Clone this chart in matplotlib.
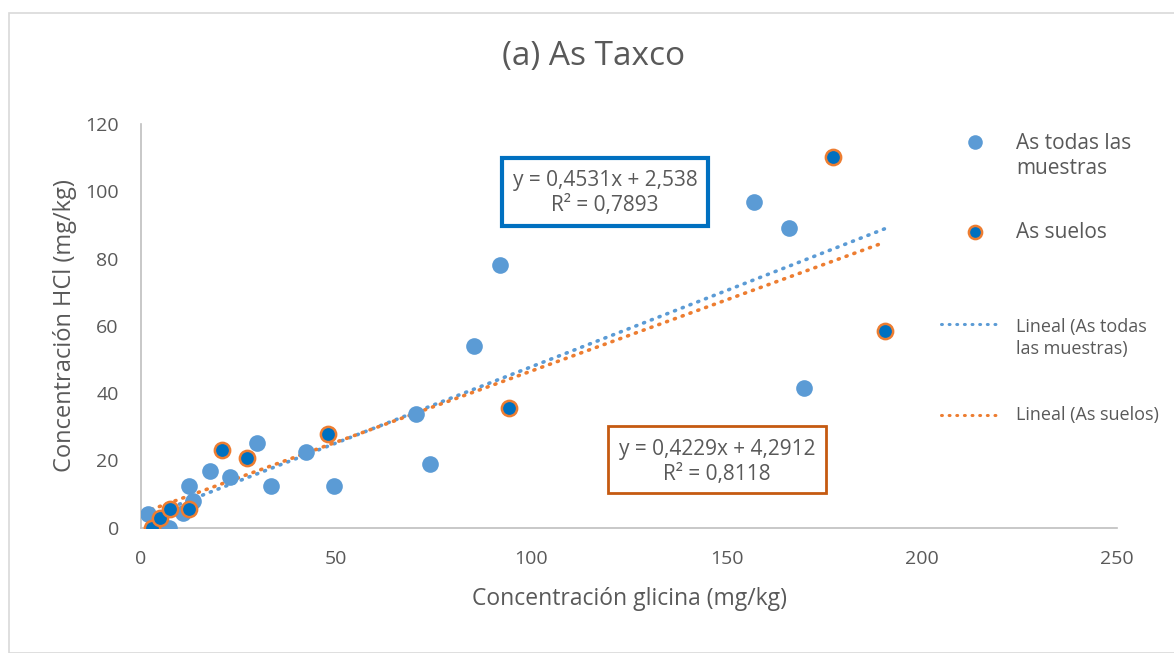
import matplotlib
matplotlib.use("Agg")
import matplotlib.pyplot as plt
from matplotlib.lines import Line2D
from matplotlib.patches import Rectangle
import numpy as np

plt.rcParams['font.family'] = ['Open Sans', 'DejaVu Sans']

# As: todas las muestras
x_todas = [1.9, 5.3, 7.2, 10.8, 12.4, 13.4, 17.7, 22.8, 29.8, 33.3, 42.2, 49.5,
           70.4, 74.0, 85.3, 91.9, 157.1, 166.1, 169.8]
y_todas = [4, 0, 0, 4.5, 12.3, 8, 17, 15, 25.3, 12.5, 22.6, 12.3, 33.9, 19, 53.9,
           78.2, 96.9, 89.0, 41.6]

# As: suelos
x_suelos = [2.7, 4.9, 7.4, 12.3, 20.8, 27.1, 48.0, 94.3, 177.3, 190.5]
y_suelos = [0, 3, 5.5, 5.5, 23, 20.8, 28, 35.6, 110.3, 58.6]

# ajustes lineales (pendiente, ordenada, R²)
fit_todas = (0.4531, 2.538, 0.7893)
fit_suelos = (0.4229, 4.2912, 0.8118)

x_ticks = [0, 50, 100, 150, 200, 250]
y_ticks = [0, 20, 40, 60, 80, 100, 120]

c_todas = '#5B9BD5'
c_suelos = '#0070C0'
c_borde = '#ED7D31'
c_texto = '#595959'


def fx(px):
    return px / 1174


def fy(py):
    return 1 - py / 653


def etiqueta(fit):
    m, b, r2 = fit
    f = lambda v, n: f'{v:.{n}f}'.replace('.', ',')
    return f'y = {f(m, 4)}x + {f(b, 3 if b < 3 else 4)}\nR² = {f(r2, 4)}'


fig = plt.figure(figsize=(11.74, 6.53), dpi=100)
ax = fig.add_axes([fx(141), fy(527.7), (1117 - 141) / 1174, (527.7 - 124) / 653])

# lineas de tendencia
for xs, fit, col in [(x_todas + x_suelos, fit_todas, c_todas),
                     (x_suelos, fit_suelos, c_borde)]:
    xl = np.array([min(xs), max(xs)])
    ax.plot(xl, fit[0] * xl + fit[1], color=col, lw=2.6,
            linestyle=(0, (0.3, 2.0)), dash_capstyle='round', zorder=2)

ax.plot(x_todas, y_todas, 'o', ms=12, color=c_todas, mec='none', zorder=3)
ax.plot(x_suelos, y_suelos, 'o', ms=11, color=c_suelos, mec=c_borde,
        mew=1.8, zorder=4)

ax.set_xlim(0, 250)
ax.set_ylim(0, 120)
ax.set_xticks(x_ticks)
ax.set_yticks(y_ticks)
ax.tick_params(length=0, labelsize=14, colors=c_texto, pad=16)
for s in ['top', 'right']:
    ax.spines[s].set_visible(False)
for s in ['left', 'bottom']:
    ax.spines[s].set_color('#BFBFBF')
    ax.spines[s].set_linewidth(1.2)

ax.set_xlabel('Concentración glicina (mg/kg)', fontsize=16.5, color=c_texto,
              labelpad=14)
ax.set_ylabel('Concentración HCl (mg/kg)', fontsize=17, color=c_texto,
              labelpad=6)
fig.text(fx(594), fy(57), '(a) As Taxco', ha='center', va='center', fontsize=24,
         color=c_texto)

# etiquetas de las ecuaciones
fig.text(fx(605), fy(193), etiqueta(fit_todas), ha='center', va='center',
         fontsize=15, color=c_texto, linespacing=1.25)
fig.add_artist(Rectangle((fx(502), fy(226)), 206 / 1174, 68 / 653,
                         fill=False, ec=c_suelos, lw=3))
fig.text(fx(717), fy(462), etiqueta(fit_suelos), ha='center', va='center',
         fontsize=15, color=c_texto, linespacing=1.25)
fig.add_artist(Rectangle((fx(608), fy(493)), 218 / 1174, 67 / 653,
                         fill=False, ec='#C55A11', lw=2))

# leyenda
fig.add_artist(Line2D([fx(975)], [fy(142)], marker='o', ms=10.5, color=c_todas,
                      mec='none'))
fig.add_artist(Line2D([fx(975)], [fy(232)], marker='o', ms=9.5, color=c_suelos,
                      mec=c_borde, mew=1.8))
fig.add_artist(Line2D([fx(941), fx(1002)], [fy(324), fy(324)], color=c_todas,
                      lw=2.2, linestyle=(0, (0.3, 2.2)), dash_capstyle='round'))
fig.add_artist(Line2D([fx(941), fx(1002)], [fy(415), fy(415)], color=c_borde,
                      lw=2.2, linestyle=(0, (0.3, 2.2)), dash_capstyle='round'))
fig.text(fx(1016), fy(156), 'As todas las\nmuestras', ha='left', va='center',
         fontsize=15, color=c_texto, linespacing=1.2)
fig.text(fx(1016), fy(232), 'As suelos', ha='left', va='center',
         fontsize=15, color=c_texto)
fig.text(fx(1016), fy(338), 'Lineal (As todas\nlas muestras)', ha='left',
         va='center', fontsize=13, color=c_texto, linespacing=1.3)
fig.text(fx(1016), fy(415), 'Lineal (As suelos)', ha='left', va='center',
         fontsize=13, color=c_texto)

# borde del grafico
fig.add_artist(Rectangle((fx(8.5), 0), 1, fy(12.5), fill=False, ec='#D9D9D9',
                         lw=1.2))

fig.savefig('out.png', dpi=100)
